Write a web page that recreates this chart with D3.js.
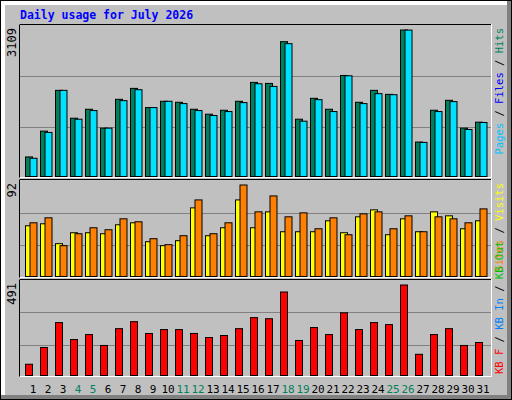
<!DOCTYPE html>
<html>
<head>
<meta charset="utf-8">
<script src="https://cdn.jsdelivr.net/npm/d3@7"></script>
<style>
  body { margin: 0; background: #fff; }
  svg { display: block; font-family: "DejaVu Sans Mono", monospace; }
</style>
</head>
<body>
<svg id="chart" width="512" height="400"></svg>
<script>
// ── Data: July 2026 ──
const days = d3.range(1, 32);
const weekends = [4, 5, 11, 12, 18, 19, 25, 26];
const hits = [415, 963, 1828, 1237, 1427, 1026, 1638, 1870, 1462, 1596, 1575, 1427, 1322, 1406, 1596, 1997,
  1975, 2861, 1216, 1659, 1427, 2144, 1575, 1828, 1743, 3109, 731, 1406, 1617, 1026, 1153];
const pages = [387, 935, 1828, 1216, 1399, 1026, 1610, 1842, 1462, 1596, 1547, 1399, 1294, 1378, 1568, 1968,
  1912, 2819, 1174, 1631, 1378, 2137, 1547, 1758, 1736, 3107, 724, 1378, 1589, 998, 1146];
const visits = [51, 53, 33, 44, 44, 43, 52, 54, 35, 31, 36, 69, 41, 49, 77, 49,
  65, 45, 45, 45, 56, 44, 60, 67, 42, 58, 45, 65, 61, 48, 56];
const sites = [54, 59, 31, 43, 49, 47, 58, 55, 38, 32, 41, 77, 43, 54, 92, 65,
  81, 60, 64, 48, 59, 42, 63, 65, 48, 61, 45, 60, 58, 54, 68];
const kbytes = [61, 152, 287, 195, 222, 163, 254, 292, 228, 249, 249, 228, 206, 217, 254, 314,
  308, 453, 190, 260, 222, 340, 249, 287, 276, 491, 115, 222, 254, 163, 179];

const svg = d3.select("#chart");
const W = 512, H = 400;

// ── Frame ──
svg.append("rect").attr("width", W).attr("height", H).attr("fill", "#c0c0c0");
svg.append("rect").attr("x", 507).attr("y", 1).attr("width", 4).attr("height", 398).attr("fill", "#808080");
svg.append("rect").attr("x", 1).attr("y", 395).attr("width", 510).attr("height", 4).attr("fill", "#808080");
svg.append("rect").attr("x", 1).attr("y", 1).attr("width", 4).attr("height", 394).attr("fill", "#fff");
svg.append("rect").attr("x", 1).attr("y", 1).attr("width", 506).attr("height", 4).attr("fill", "#fff");
svg.append("rect").attr("x", 0.5).attr("y", 0.5).attr("width", W - 1).attr("height", H - 1)
  .attr("fill", "none").attr("stroke", "#000");

svg.append("text").attr("x", 20).attr("y", 19)
  .attr("fill", "#0000ff").attr("font-weight", "bold").attr("font-size", 11.5)
  .text("Daily usage for July 2026");

const x = d3.scaleBand().domain(days).range([25, 25 + 15 * 31]).paddingInner(0);
const left = 20, right = 491;

function panel(top, bottom, maxVal, back, front, colBack, colFront, labels, anchorEnd) {
  const y = d3.scaleLinear().domain([0, maxVal]).range([bottom, top + 4.5]);
  const g = svg.append("g");
  // grid at thirds
  [1, 2].forEach(i => {
    const gy = Math.round(top + (bottom + 2 - top) * i / 3) + 0.5;
    g.append("line").attr("x1", left).attr("x2", right).attr("y1", gy).attr("y2", gy)
      .attr("stroke", "#808080");
  });
  g.append("line").attr("x1", left).attr("x2", right).attr("y1", top - 0.5).attr("y2", top - 0.5).attr("stroke", "#000");
  g.append("line").attr("x1", left - 0.5).attr("x2", left - 0.5).attr("y1", top - 0.5).attr("y2", bottom + 1.5).attr("stroke", "#000");
  g.append("line").attr("x1", right + 0.5).attr("x2", right + 0.5).attr("y1", top - 1).attr("y2", bottom + 2).attr("stroke", "#fff");
  g.append("line").attr("x1", left).attr("x2", right + 1).attr("y1", bottom + 1.5).attr("y2", bottom + 1.5).attr("stroke", "#fff");

  const series = [[back, colBack, 0]];
  if (front) series.push([front, colFront, 4.5]);
  series.forEach(([vals, col, off]) => {
    g.selectAll(null).data(vals).join("rect")
      .attr("x", (d, i) => x(days[i]) + off + 0.5)
      .attr("y", d => y(d) + 0.5)
      .attr("width", 7)
      .attr("height", d => bottom - y(d))
      .attr("fill", col).attr("stroke", "#000");
  });

  svg.append("text")
    .attr("transform", `translate(16,${top + 3}) rotate(-90)`)
    .attr("text-anchor", "end").attr("font-size", 12).attr("fill", "#000")
    .text(maxVal);

  const t = svg.append("text")
    .attr("transform", `translate(503,${anchorEnd ? top + 3 : bottom - 1}) rotate(-90)`)
    .attr("text-anchor", anchorEnd ? "end" : "start").attr("font-size", 10.5);
  labels.forEach(([s, c]) => t.append("tspan").attr("fill", c).text(s));
}

panel(25, 176, 3109, hits, pages, "#00805c", "#00e0ff",
  [["Pages", "#00c0ff"], [" / ", "#000"], ["Files", "#0000ff"], [" / ", "#000"], ["Hits", "#00805c"]], true);
panel(180, 276, 92, visits, sites, "#ffff00", "#ff8000",
  [["Sites", "#ff8000"], [" / ", "#000"], ["Visits", "#ffff00"]], true);
panel(280, 375, 491, kbytes, null, "#ff0000", null,
  [["KB F", "#ff0000"], [" / ", "#000"], ["KB In", "#0080ff"], [" / ", "#000"], ["KB Out", "#00c000"]], false);

svg.selectAll(".day").data(days).join("text")
  .attr("class", "day")
  .attr("x", d => x(d) + 8).attr("y", 393)
  .attr("text-anchor", "middle").attr("font-size", 11)
  .attr("fill", d => weekends.includes(d) ? "#00805c" : "#000")
  .text(d => d);
</script>
</body>
</html>
